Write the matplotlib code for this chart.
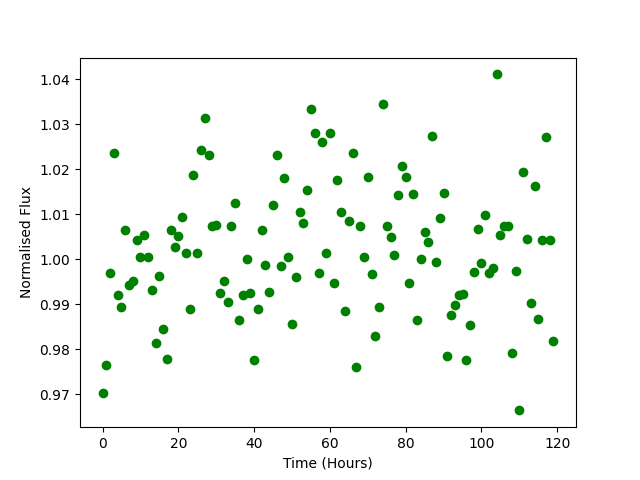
import numpy as np
import matplotlib
matplotlib.use("Agg")
import matplotlib.pyplot as plt

# time in hours, one reading per hour
time_hours = np.arange(120)

# normalised flux
flux = [
    0.9702, 0.9765, 0.9970, 1.0237, 0.9920, 0.9893, 1.0065, 0.9942, 0.9952, 1.0042,
    1.0004, 1.0055, 1.0004, 0.9932, 0.9813, 0.9962, 0.9846, 0.9779, 1.0065, 1.0027,
    1.0052, 1.0094, 1.0014, 0.9890, 1.0188, 1.0014, 1.0244, 1.0313, 1.0231, 1.0073,
    1.0077, 0.9925, 0.9951, 0.9905, 1.0075, 1.0124, 0.9865, 0.9920, 1.0000, 0.9924,
    0.9777, 0.9889, 1.0064, 0.9987, 0.9927, 1.0120, 1.0231, 0.9984, 1.0180, 1.0005,
    0.9855, 0.9960, 1.0104, 1.0080, 1.0155, 1.0333, 1.0280, 0.9970, 1.0260, 1.0015,
    1.0280, 0.9947, 1.0176, 1.0106, 0.9884, 1.0086, 1.0237, 0.9760, 1.0073, 1.0004,
    1.0182, 0.9967, 0.9829, 0.9893, 1.0345, 1.0075, 1.0049, 1.0009, 1.0143, 1.0207,
    1.0182, 0.9947, 1.0145, 0.9864, 1.0000, 1.0060, 1.0038, 1.0273, 0.9993, 1.0091,
    1.0147, 0.9786, 0.9876, 0.9898, 0.9921, 0.9923, 0.9775, 0.9853, 0.9971, 1.0068,
    0.9991, 1.0098, 0.9970, 0.9980, 1.0411, 1.0055, 1.0075, 1.0075, 0.9791, 0.9975,
    0.9664, 1.0193, 1.0045, 0.9902, 1.0162, 0.9868, 1.0043, 1.0271, 1.0043, 0.9818,
]

fig, ax = plt.subplots(figsize=(6.4, 4.8), dpi=100)
ax.plot(time_hours, flux, 'go')
ax.set_xlabel("Time (Hours)")
ax.set_ylabel("Normalised Flux")

fig.savefig("out.png")
